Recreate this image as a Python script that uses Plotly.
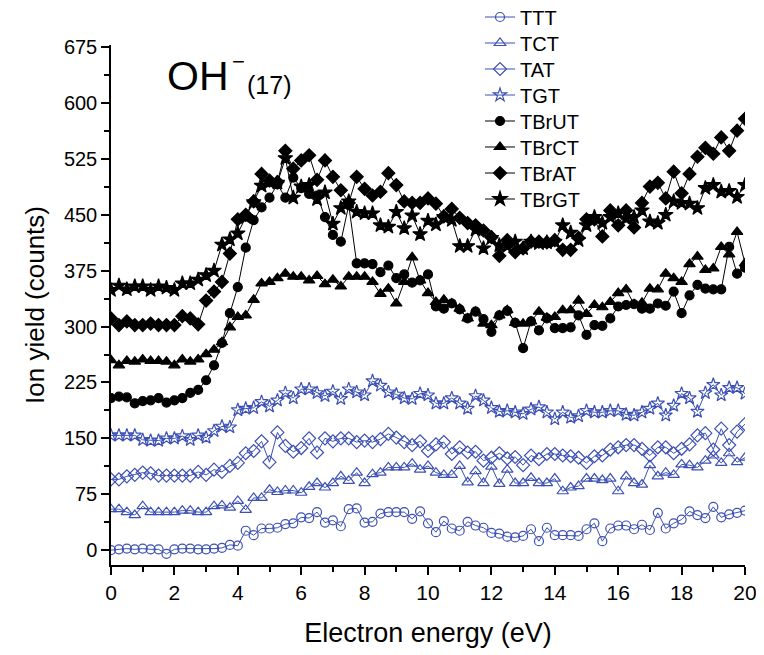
import plotly.graph_objects as go

energy = [i * 0.25 for i in range(81)]

TTT = [0, 1, 2, 1, 2, 1, 1, -5, 1, 2, 2, 1, 1, 2, 3, 7, 6,
       26, 20, 29, 29, 30, 35, 36, 44,
       43, 51, 37, 40, 32, 55, 56, 37,
       38, 49, 51, 51, 51, 42, 52, 36,
       24, 39, 29, 26, 38, 33, 30, 23,
       22, 18, 17, 19, 28, 12, 30, 20,
       20, 20, 19, 28, 36, 12, 29, 33,
       33, 28, 34, 27, 50, 29, 36, 41,
       52, 47, 43, 58, 44, 48, 50, 53]

TCT = [55, 55, 51, 47, 59, 51, 51, 51, 51, 53, 53, 51, 51, 59, 60, 57, 66,
       54, 70, 70, 81, 78, 80, 80, 77,
       85, 90, 84, 90, 99, 93, 104, 90,
       102, 104, 111, 111, 111, 116, 108, 113,
       104, 101, 101, 113, 91, 106, 90, 112,
       89, 108, 90, 90, 97, 90, 90, 96,
       79, 84, 86, 96, 96, 94, 96, 79,
       99, 90, 88, 114, 99, 104, 101, 115,
       114, 111, 120, 127, 117, 130, 118, 124]

TAT = [95, 95, 99, 101, 104, 103, 100, 100, 100, 100, 100, 105, 101, 108, 105, 113, 117,
       130, 133, 146, 118, 158, 140, 132, 137,
       150, 131, 150, 146, 150, 150, 145, 147,
       145, 149, 156, 151, 145, 141, 146, 133,
       142, 145, 129, 138, 131, 132, 120, 124,
       130, 123, 125, 114, 127, 122, 129, 129,
       127, 126, 124, 117, 126, 127, 135, 138,
       141, 141, 136, 127, 138, 138, 130, 136,
       142, 154, 157, 135, 163, 141, 159, 169]

TGT = [154, 154, 154, 154, 148, 147, 147, 150, 150, 153, 148, 154, 151, 160, 166, 165, 188,
       190, 191, 199, 193, 201, 211, 204, 216,
       216, 211, 207, 213, 203, 216, 212, 208,
       227, 221, 212, 209, 204, 203, 210, 208,
       197, 197, 204, 197, 190, 207, 201, 191,
       186, 187, 185, 183, 189, 192, 185, 176,
       185, 178, 180, 187, 185, 185, 187, 187,
       182, 181, 185, 190, 197, 181, 194, 210,
       204, 186, 211, 222, 208, 218, 218, 210]

TBrUT = [204, 206, 205, 197, 200, 201, 204, 198, 201, 204, 211, 215, 228, 248, 278, 318, 353,
         406, 443, 460, 473, 491, 473, 500, 486,
         478, 476, 447, 423, 414, 463, 385, 385,
         384, 373, 382, 365, 370, 359, 362, 370,
         327, 324, 331, 323, 311, 320, 310, 293,
         315, 321, 305, 271, 307, 295, 311, 298,
         298, 299, 315, 289, 302, 301, 311, 327,
         329, 330, 324, 324, 331, 328, 347, 318,
         342, 356, 351, 350, 350, 407, 371, 379]

TBrCT = [255, 248, 254, 253, 256, 254, 254, 253, 248, 256, 253, 256, 263, 269, 279, 299, 313,
         315, 336, 358, 360, 365, 371, 367, 367,
         362, 368, 357, 363, 354, 367, 367, 367,
         360, 344, 351, 331, 360, 393, 362, 345,
         333, 336, 331, 324, 311, 320, 304, 302,
         315, 322, 305, 304, 307, 320, 312, 313,
         322, 322, 335, 317, 329, 326, 333, 345,
         350, 330, 332, 351, 350, 371, 365, 360,
         384, 394, 376, 378, 407, 397, 427, 385]

TBrAT = [311, 302, 307, 302, 302, 304, 302, 302, 302, 314, 311, 303, 335, 347, 360, 398, 444,
         450, 468, 505, 496, 494, 536, 512, 523,
         530, 497, 523, 501, 483, 466, 501, 485,
         476, 481, 506, 490, 468, 466, 466, 472,
         465, 448, 458, 446, 439, 436, 429, 420,
         395, 416, 400, 405, 414, 414, 413, 416,
         403, 403, 419, 444, 444, 421, 456, 436,
         456, 433, 466, 488, 493, 472, 508, 479,
         505, 528, 540, 532, 554, 536, 563, 579]

TBrGT = [349, 355, 350, 354, 354, 349, 354, 352, 349, 358, 358, 363, 369, 375, 410, 417, 425,
         447, 467, 489, 494, 493, 526, 473, 488,
         490, 471, 480, 438, 459, 468, 454, 452,
         452, 436, 434, 454, 432, 449, 424, 442,
         437, 447, 443, 408, 408, 430, 405, 419,
         409, 408, 414, 405, 414, 412, 413, 414,
         436, 426, 416, 436, 447, 439, 447, 452,
         445, 447, 456, 441, 439, 450, 468, 466,
         465, 459, 486, 490, 481, 482, 474, 490]

x_ticks = [0, 2, 4, 6, 8, 10, 12, 14, 16, 18, 20]
y_ticks = [0, 75, 150, 225, 300, 375, 450, 525, 600, 675]

BLUE = "#3c50b4"
FONT = "Liberation Sans, Arial, sans-serif"

# page body has a default 8px margin, so the figure is sized to fit the window
OFF = 8
W, H = 764 - OFF, 655 - OFF
ML, MR, MT, MB = 103, 19, 37, 90
PW, PH = W - ML - MR, H - MT - MB


def px_x(sx):
    return (sx - OFF - ML) / PW


def px_y(sy):
    return (H - MB - (sy - OFF)) / PH


series = [
    ("TTT", TTT, BLUE, "circle-open", 9),
    ("TCT", TCT, BLUE, "triangle-up-open", 10),
    ("TAT", TAT, BLUE, "diamond-open", 10),
    ("TGT", TGT, BLUE, "star-open", 10),
    ("TBrUT", TBrUT, "black", "circle", 9),
    ("TBrCT", TBrCT, "black", "triangle-up", 10),
    ("TBrAT", TBrAT, "black", "diamond", 10),
    ("TBrGT", TBrGT, "black", "star", 11),
]

fig = go.Figure()
legend_layouts = {}
for i, (name, vals, col, sym, sz) in enumerate(series):
    lg = "legend" if i == 0 else f"legend{i + 1}"
    fig.add_trace(go.Scatter(
        x=energy, y=vals, name=name, mode="lines+markers",
        line=dict(color=col, width=1),
        marker=dict(symbol=sym, size=sz, color=col,
                    line=dict(color=col, width=1.2)),
        legend=lg,
    ))
    legend_layouts[lg] = dict(
        x=px_x(480), y=px_y(17 + 26 * i), xanchor="left", yanchor="middle",
        bgcolor="rgba(0,0,0,0)", borderwidth=0,
        font=dict(size=20, family=FONT, color="black"), itemwidth=30,
    )

fig.update_layout(
    width=W, height=H,
    margin=dict(l=ML, r=MR, t=MT, b=MB, autoexpand=False),
    paper_bgcolor="white", plot_bgcolor="white",
    font=dict(family=FONT, color="black", size=20),
    showlegend=True,
    xaxis=dict(range=[0, 20], tickvals=x_ticks, ticktext=[str(v) for v in x_ticks],
               showline=True, linecolor="black", linewidth=1.5,
               ticks="outside", ticklen=8, tickwidth=1.5, tickcolor="black",
               minor=dict(dtick=1, ticks="outside", ticklen=5, tickwidth=1.5, tickcolor="black"),
               showgrid=False, zeroline=False, tickfont=dict(size=21),
               title=dict(text="Electron energy (eV)", font=dict(size=27), standoff=20)),
    yaxis=dict(range=[-20, 678], tickvals=y_ticks, ticktext=[str(v) for v in y_ticks],
               showline=True, linecolor="black", linewidth=1.5,
               ticks="outside", ticklen=8, tickwidth=1.5, tickcolor="black",
               minor=dict(tick0=0, dtick=37.5, ticks="outside", ticklen=5, tickwidth=1.5, tickcolor="black"),
               showgrid=False, zeroline=False, tickfont=dict(size=20),
               title=dict(text="Ion yield (counts)", font=dict(size=26), standoff=12)),
)
fig.update_layout(**legend_layouts)

fig.add_annotation(text="OH", xref="paper", yref="paper", x=px_x(198), y=px_y(76),
                   xanchor="center", yanchor="middle", showarrow=False,
                   font=dict(size=41, family=FONT))
fig.add_annotation(text="\u2212", xref="paper", yref="paper", x=px_x(238), y=px_y(61),
                   xanchor="center", yanchor="middle", showarrow=False,
                   font=dict(size=22, family=FONT))
fig.add_annotation(text="(17)", xref="paper", yref="paper", x=px_x(269), y=px_y(85),
                   xanchor="center", yanchor="middle", showarrow=False,
                   font=dict(size=25, family=FONT))

fig.write_html("out.html")
